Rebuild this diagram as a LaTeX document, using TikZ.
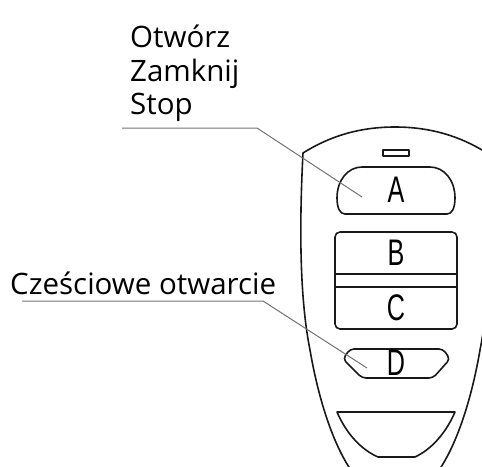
\documentclass[tikz,border=0pt]{standalone}
\usepackage{fontspec}
\setmainfont{Open Sans}
\newfontfamily\keyfont{Liberation Sans}
\begin{document}
\begin{tikzpicture}[x=1pt,y=-1pt,
  outline/.style={draw=black!90,line width=1.6pt,line join=round},
  leader/.style={draw=black!55,line width=1pt},
  caption/.style={inner sep=0pt,anchor=base west,text=black,
    font=\fontsize{29.5}{33}\selectfont},
  keylabel/.style={inner sep=0pt,text=black,
    font=\fontsize{37}{37}\keyfont}]
\useasboundingbox (0,0) rectangle (482,466);
\clip (0,0) rectangle (482,466);

% housing of the remote
\draw[outline] (303,153) .. controls (330,136) and (360,127) .. (395,127)
  .. controls (430,127) and (460,136) .. (487,153)
  .. controls (491,230) and (490,300) .. (480,350)
  .. controls (468,420) and (440,500) .. (395,500)
  .. controls (350,500) and (322,420) .. (310,350)
  .. controls (300,300) and (299,230) .. (303,153) -- cycle;

% LED slot
\draw[outline,line width=1.3pt] (383,150) rectangle (409,156);

% button A
\draw[outline] (345,214) -- (447,214)
  .. controls (452,214) and (455,208) .. (455,198)
  .. controls (455,180) and (444,167) .. (430,167) -- (362,167)
  .. controls (348,167) and (337,180) .. (337,198)
  .. controls (337,208) and (340,214) .. (345,214) -- cycle;

% buttons B and C
\draw[outline,rounded corners=5pt] (335,232) rectangle (457,329);
\draw[outline] (335,274) -- (457,274);
\draw[outline] (335,287) -- (457,287);

% button D
\draw[outline,rounded corners=4pt] (350,349) -- (443,349) -- (450,359)
  -- (433,378) -- (362,378) -- (343,359) -- cycle;

% lower key
\draw[outline] (337,412) -- (455,412)
  .. controls (445,435) and (430,450) .. (415,457) -- (378,457)
  .. controls (362,450) and (347,435) .. (337,412) -- cycle;

% key letters
\node[keylabel] (ka) at (396,190) {\scalebox{0.68}[1]{A}};
\node[keylabel] (kb) at (396,253) {\scalebox{0.68}[1]{B}};
\node[keylabel] (kc) at (396,308) {\scalebox{0.68}[1]{C}};
\node[keylabel] (kd) at (396,363) {\scalebox{0.68}[1]{D}};

% captions
\node[caption] (t1) at (130,47) {Otwórz};
\node[caption] (t2) at (130,81) {Zamknij};
\node[caption] (t3) at (130,114) {Stop};
\node[caption] (t4) at (10,294) {Cześciowe otwarcie};

% leader lines
\coordinate (u1) at (122,128);
\coordinate (k1) at (257,128);
\coordinate (e1) at (362,197);
\coordinate (u2) at (22,301);
\coordinate (k2) at (263,301);
\coordinate (e2) at (367,368);
\draw[leader] (u1) -- (k1) -- (e1);
\draw[leader] (u2) -- (k2) -- (e2);
\end{tikzpicture}
\end{document}
